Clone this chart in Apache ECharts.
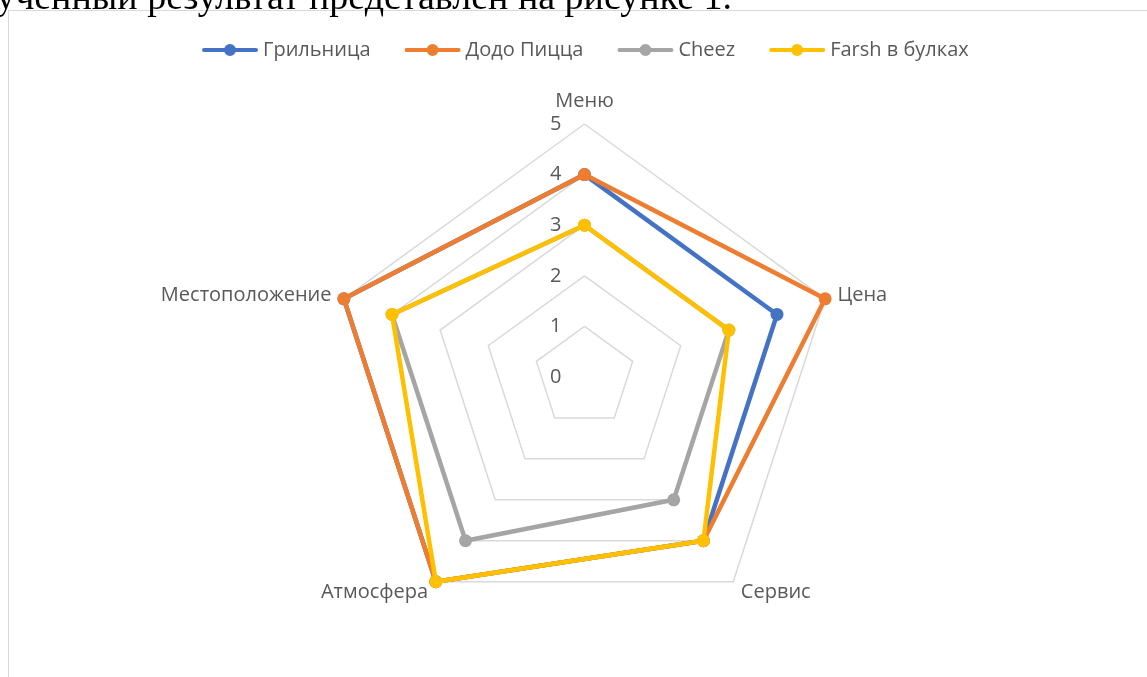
<!DOCTYPE html>
<html>
<head>
<meta charset="utf-8">
<script src="https://cdn.jsdelivr.net/npm/echarts@6/dist/echarts.min.js"></script>
<style>
  html, body { margin: 0; padding: 0; background: #fff; overflow: hidden; }
  #wrap { position: relative; width: 1147px; height: 677px; overflow: hidden; }
  #chart { position: absolute; left: 0; top: 0; width: 1147px; height: 677px; }
  #frame { position: absolute; left: 8px; top: 10px; width: 1200px; height: 700px;
           border-left: 1.5px solid #d9d9d9; border-top: 1.5px solid #d9d9d9; pointer-events: none; }
  #doctext { position: absolute; right: 415px; top: -23px; white-space: nowrap;
             font-family: "Liberation Serif", "Times New Roman", serif; font-size: 38px; line-height: 38px; color: #000; }
</style>
</head>
<body>
<div id="wrap">
  <div id="chart"></div>
  <div id="frame"></div>
  <div id="doctext">Полученный результат представлен на рисунке 1.</div>
</div>
<script>
// ---- data ----
const categories = ['Меню', 'Цена', 'Сервис', 'Атмосфера', 'Местоположение'];
const seriesNames = ['Грильница', 'Додо Пицца', 'Cheez', 'Farsh в булках'];
const grilnitsa = [4, 4, 4, 5, 5];
const dodoPizza = [4, 5, 4, 5, 5];
const cheez = [3, 3, 3, 4, 4];
const farsh = [3, 3, 4, 5, 4];
const axisMin = 0;
const axisMax = 5;
const axisSplits = 5;

// ---- styling ----
const colors = ['#4472C4', '#ED7D31', '#A5A5A5', '#FFC000'];
const font = '"Open Sans", "Noto Sans", sans-serif';
const textColor = '#595959';

// ECharts places radar indicators counter-clockwise; Excel goes clockwise.
const order = [0, 4, 3, 2, 1];
const reorder = arr => order.map(i => arr[i]);

const indicators = reorder(categories).map((name, i) => {
  const ind = { name: name, min: axisMin, max: axisMax };
  if (i === 0) {
    ind.axisLabel = { show: true, color: textColor, fontSize: 20, fontFamily: font, margin: 23 };
  }
  return ind;
});

const allValues = [grilnitsa, dodoPizza, cheez, farsh];

const legendIcon = 'path://M2,4 L54,4 A2,2 0 0 1 54,8 L2,8 A2,2 0 0 1 2,4 Z M34,6 A6,6 0 1 1 22,6 A6,6 0 1 1 34,6 Z';

const chart = echarts.init(document.getElementById('chart'), null, { renderer: 'canvas' });
chart.setOption({
  animation: false,
  legend: {
    top: 35,
    left: 197,
    itemWidth: 56,
    itemHeight: 12,
    itemGap: 34,
    icon: legendIcon,
    textStyle: { color: textColor, fontSize: 20, fontFamily: font },
    data: seriesNames
  },
  radar: {
    center: [584.5, 377],
    radius: 253,
    startAngle: 90,
    splitNumber: axisSplits,
    shape: 'polygon',
    nameGap: 13,
    axisName: { color: textColor, fontSize: 20, fontFamily: font },
    splitLine: { lineStyle: { color: '#d9d9d9', width: 1.5 } },
    splitArea: { show: false },
    axisLine: { show: false },
    axisTick: { show: false },
    axisLabel: { show: false },
    indicator: indicators
  },
  series: seriesNames.map((name, i) => ({
    type: 'radar',
    name: name,
    symbol: 'circle',
    symbolSize: 13,
    color: colors[i],
    itemStyle: { color: colors[i] },
    lineStyle: { color: colors[i], width: 4.5, join: 'round', cap: 'round' },
    emphasis: { disabled: true },
    z: 2 + i,
    data: [{ name: name, value: reorder(allValues[i]) }]
  }))
});
</script>
</body>
</html>
